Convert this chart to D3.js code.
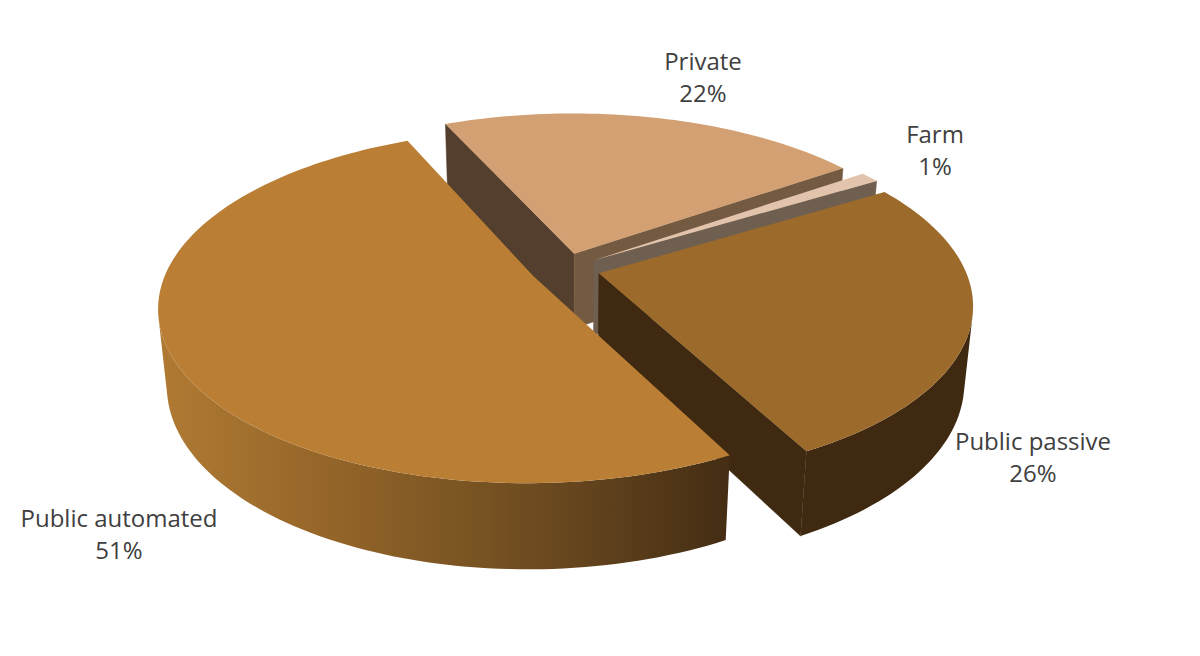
<!DOCTYPE html>
<html><head><meta charset="utf-8">
<script src="https://cdn.jsdelivr.net/npm/d3@7"></script>
<style>html,body{margin:0;padding:0;background:#fff}svg{display:block}</style>
</head><body><svg id="c" width="1200" height="656"></svg>
<script>
const categories = ["Public automated","Private","Farm","Public passive"];
const shares = [51,22,1,26];
const topColors = ["#BA7F34","#D2A072","#E2C4AC","#9C6A2B"];
const leadFaceColors = ["#4A3015","#543F2E","#6E5F50","#3F2A11"];
const trailFaceColors = ["#4A3015","#745A40","#6E5F50","#3F2A11"];
const labelCentres = [[119,519],[703,62],[935,135],[1033,442]];

const cam = {cx:565, cy:269, R:366, tilt:27.5*Math.PI/180, D:1900, h:87, explode:35};
const startAngle = 152.3*Math.PI/180;

const svg = d3.select("#c");
const arcs = d3.pie().sort(null).startAngle(startAngle).endAngle(startAngle+2*Math.PI)(shares);

function project(u,v,z){
  const depth = cam.D - v*Math.cos(cam.tilt) - z*Math.sin(cam.tilt);
  const s = cam.D/depth;
  return [cam.cx + u*s, cam.cy + (v*Math.sin(cam.tilt) - z*Math.cos(cam.tilt))*s];
}
const defs = svg.append("defs");
const grad = defs.append("linearGradient").attr("id","wall").attr("gradientUnits","userSpaceOnUse")
  .attr("x1",160).attr("x2",730).attr("y1",0).attr("y2",0);
[[0,"#B07A33"],[.3,"#946529"],[.65,"#6E4C20"],[1,"#442D14"]].forEach(([o,c])=>grad.append("stop").attr("offset",o).attr("stop-color",c));

const line = d3.line();
const order = [1,2,3,0];
order.forEach(i=>{
  const a = arcs[i];
  const mid = (a.startAngle+a.endAngle)/2;
  const ox = cam.explode*Math.sin(mid), oy = -cam.explode*Math.cos(mid);
  const plane = (th,r)=>[ox+r*Math.sin(th), oy-r*Math.cos(th)];
  const n = Math.max(4,Math.round((a.endAngle-a.startAngle)*40));
  const angles = d3.range(n+1).map(k=>a.startAngle+(a.endAngle-a.startAngle)*k/n);
  const rim = angles.map(t=>plane(t,cam.R));
  const apex = plane(0,0);
  const T = p=>project(p[0],p[1],0), B = p=>project(p[0],p[1],-cam.h);
  const g = svg.append("g").attr("class","slice").attr("data-name",categories[i]);
  const quad = (p,q)=>[T(p),T(q),B(q),B(p)];
  const face = (p,q,fill)=>{
    const poly=quad(p,q);
    if(d3.polygonArea(poly)>0) g.append("path").attr("d",line(poly)+"Z").attr("fill",fill).attr("stroke",fill).attr("stroke-width",.5);
  };
  face(apex,rim[0],leadFaceColors[i]);
  face(rim[n],apex,trailFaceColors[i]);
  const wallFill = i===0 ? "url(#wall)" : leadFaceColors[i];
  let run=[];
  const flush=()=>{
    if(run.length>1){
      const poly=[...run.map(T),...run.slice().reverse().map(B)];
      g.append("path").attr("d",line(poly)+"Z").attr("fill",wallFill);
    }
    run=[];
  };
  for(let k=0;k<n;k++){
    if(d3.polygonArea(quad(rim[k],rim[k+1]))>0){
      if(!run.length) run.push(rim[k]);
      run.push(rim[k+1]);
    } else flush();
  }
  flush();
  g.append("path").attr("d",line([apex,...rim].map(T))+"Z").attr("fill",topColors[i]);
});

const labels = svg.append("g").attr("font-family","'Open Sans',sans-serif").attr("font-size",24).attr("fill","#404040").attr("text-anchor","middle");
categories.forEach((c,i)=>{
  const t = labels.append("text").attr("x",labelCentres[i][0]).attr("y",labelCentres[i][1]+8);
  t.append("tspan").attr("x",labelCentres[i][0]).text(c);
  t.append("tspan").attr("x",labelCentres[i][0]).attr("dy",32).text(shares[i]+"%");
});
</script></body></html>
